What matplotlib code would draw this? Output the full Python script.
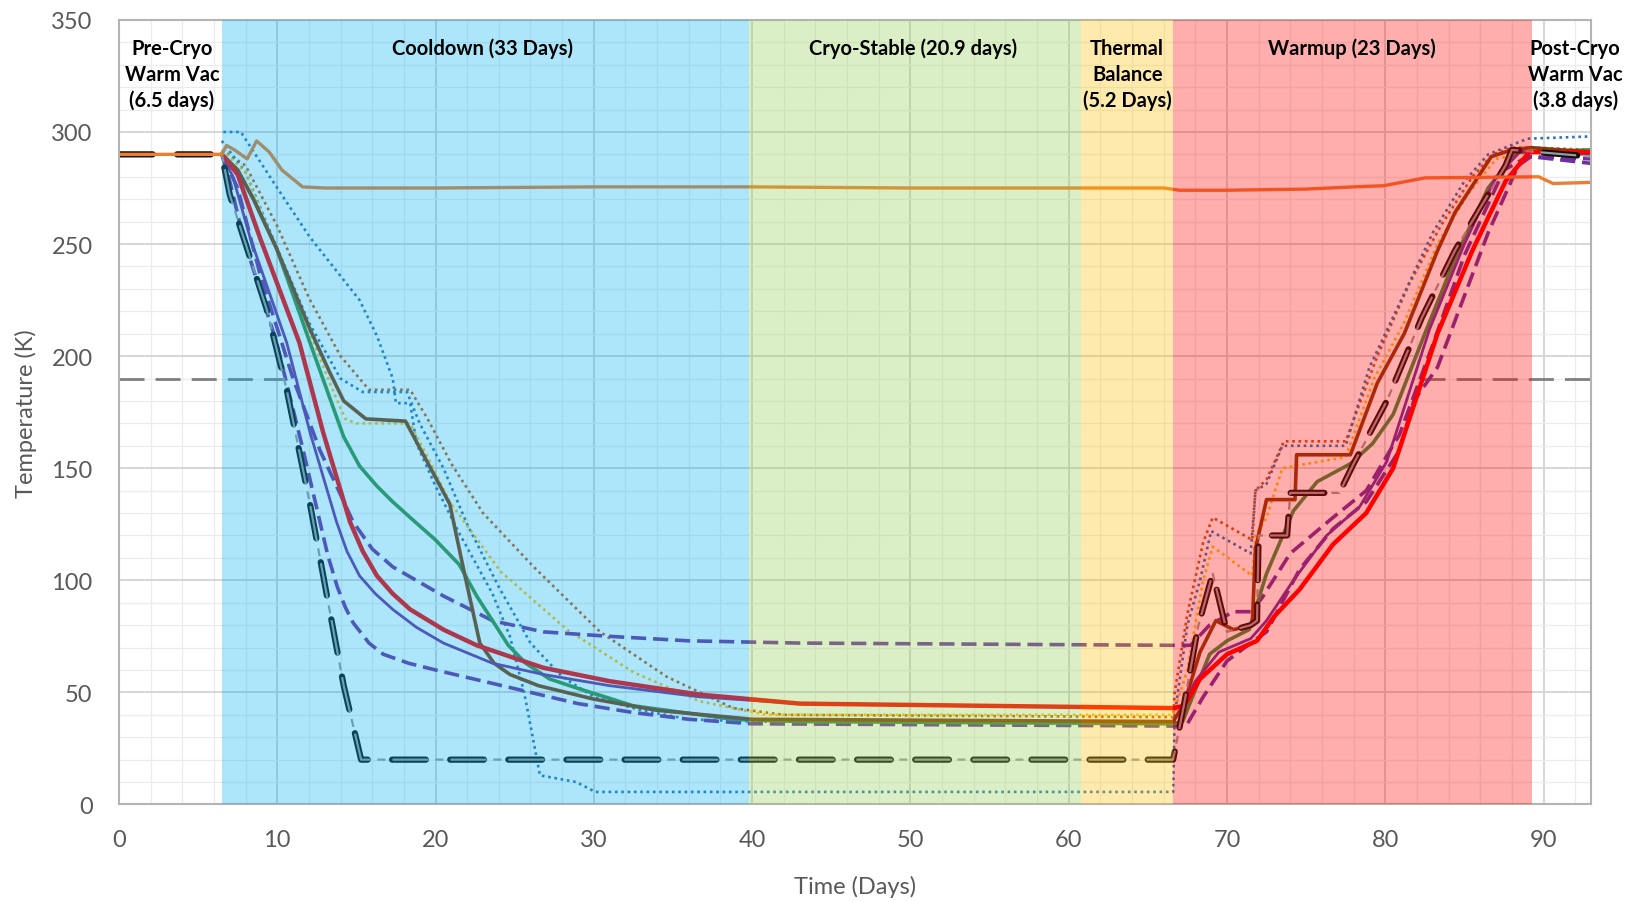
import numpy as np
import matplotlib
matplotlib.use('Agg')
import matplotlib.pyplot as plt
from matplotlib.ticker import MultipleLocator

plt.rcParams['font.family'] = ['Lato', 'DejaVu Sans']

# ---- phases (days) ----
phase_edges = [0, 6.5, 39.8, 60.8, 66.6, 89.3, 93]
phase_colors = [None, '#00B0F0', '#92D050', '#FFC000', '#FF0000', None]
phase_labels = ['Pre-Cryo\nWarm Vac\n(6.5 days)', 'Cooldown (33 Days)', 'Cryo-Stable (20.9 days)',
                'Thermal\nBalance\n(5.2 Days)', 'Warmup (23 Days)', 'Post-Cryo\nWarm Vac\n(3.8 days)']
label_x = [3.35, 23.0, 50.2, 63.7, 77.9, 92.0]

# ---- temperature traces (day, K) ----
black_x = [0, 6.5, 7.0, 9.33, 10.6, 12.07, 13.3, 14.2, 15.3, 66.6, 67.3, 68.2, 69.1, 70.0, 71.5, 71.9, 72.0,
           73.8, 74.0, 77.1, 78.0, 80.1, 82.3, 84.4, 85.9, 87.6, 88.0, 93]
black_y = [290, 290, 272, 221, 185, 134, 87, 53, 20, 20, 45, 80, 103, 77, 80, 82, 120,
           120, 139, 139, 152, 180, 217, 247, 265, 285, 292, 289]

limit_x = [0, 10.4, np.nan, 82.2, 93]
limit_y = [190, 190, np.nan, 190, 190]

orange_x = [0, 6.5, 6.8, 7.3, 8.1, 8.7, 9.5, 10.3, 11.6, 13, 20, 30, 40, 50, 60, 66, 67, 70, 75, 78, 79.9, 82.5,
            89.7, 90.6, 93]
orange_y = [290, 290, 294, 292, 288, 296, 291, 283, 275.5, 275, 275, 275.5, 275.5, 275, 275, 275, 274, 274, 274.5,
            275.5, 276, 279.5, 280, 277, 277.5]

pdl_x = [6.5, 7.0, 7.85, 9.96, 11.64, 12.7, 13.2, 13.8, 14.3, 14.8, 15.8, 16.7, 18.3, 20, 23, 26, 29, 32.5, 36,
         40, 66.6, 67.5, 68.5, 70, 71.5, 72.5, 74.6, 76.7, 78.8, 80.9, 81.8, 83.3, 86.5, 88.4, 89.2, 93]
pdl_y = [290, 278, 253, 206, 158, 126, 111, 97, 88, 81, 72, 67, 63, 60, 55, 50, 45, 41, 38,
         36, 35, 36, 48, 64, 72, 77, 105, 123, 135, 158, 180, 195, 255, 285, 289, 286]

pdu_x = [6.5, 7.5, 8.9, 11, 12.7, 14.8, 16, 17.3, 20.5, 23.6, 26.8, 31, 36, 43, 66.6, 67.7, 68.9, 70.4, 71.5,
         72.2, 74, 76.7, 78.8, 80.9, 83, 85, 87.5, 89, 93]
pdu_y = [290, 275, 237, 190, 158, 126, 114, 106, 93, 82, 77, 75, 73, 72, 71, 71, 80, 86, 86,
         92, 112, 128, 140, 165, 205, 245, 283, 289, 288]

red_x = [6.5, 7.5, 8.9, 11.4, 12.9, 14.6, 15.4, 16.3, 17.3, 18.4, 20.5, 22.6, 24.7, 26.8, 31, 36.7, 43, 66.6,
         67.3, 68.3, 70, 71.9, 73, 74.6, 76.7, 78.8, 80.5, 83.3, 85.5, 87.6, 89.1, 93]
red_y = [290, 281, 253, 206, 166, 126, 113, 102, 94, 87, 78, 71, 66, 61, 55, 49, 45, 43,
         44, 56, 67, 73, 84, 96, 116, 130, 150, 210, 247, 278, 291, 291]

purple_x = [6.5, 7.2, 8.28, 10.6, 12.07, 13.75, 14.4, 15.2, 16.2, 17.3, 18.8, 20.5, 23.6, 26.8, 31, 36.7, 43,
            66.6, 67.2, 68, 69.5, 71.5, 72.5, 74.2, 76.3, 78.4, 80.1, 82.8, 85, 87, 88.5, 93]
purple_y = [290, 280, 253, 206, 166, 126, 113, 102, 94, 87, 79, 72, 63, 58, 53, 48, 45,
            43, 44, 55, 68, 74, 82, 100, 120, 133, 153, 212, 250, 280, 291, 290]

green_x = [6.5, 7.5, 8.5, 9.96, 12.07, 14.2, 15.2, 16.3, 17.3, 18.4, 20, 21.5, 22.6, 23.6, 24.6, 25.7, 27.2, 28.9,
           32.5, 38.8, 43, 66.6, 67.2, 68.9, 70, 71.4, 72.5, 74.2, 75.7, 77.8, 79.2, 80.5, 82.5, 84.5, 86.5,
           88.3, 93]
green_y = [290, 283, 270, 248, 206, 164, 151, 142, 135, 128, 118, 107, 93, 82, 71, 63, 56, 52,
           44, 38, 37, 36, 37, 67, 73, 78, 103, 131, 144, 152, 161, 174, 210, 245, 275,
           291, 292]

brown_x = [6.5, 7.5, 8.5, 9.96, 12.07, 13.3, 14.2, 15.6, 18.1, 20.9, 21.8, 22.8, 23.7, 24.7, 26.5, 30, 34, 40,
           66.6, 67.3, 68.3, 69.3, 70.4, 71.6, 71.8, 72.5, 74.3, 74.4, 77.8, 79.5, 81.2, 83.3, 84.4, 86.7, 88,
           89.2, 93]
brown_y = [290, 283, 270, 248, 212, 193, 180, 172, 171, 134, 104, 72, 63, 58, 53, 47, 42, 38,
           37, 45, 68, 82, 78, 80, 114, 136, 136, 156, 156, 188, 210, 247, 264, 289, 292,
           293, 291]

gold_dot_x = [6.5, 8, 11.4, 13.5, 14.3, 15, 18.4, 19.5, 20.9, 24.1, 28.3, 32.5, 36.7, 40.9, 66.6, 67.5, 68.5,
              69.1, 71.6, 71.8, 72.5, 73.5, 77.5, 79.3, 81.2, 83.3, 85.2, 87, 89, 93]
gold_dot_y = [292, 282, 222, 185, 172, 170, 170, 155, 135, 104, 78, 59, 46, 40, 40, 60, 100,
              115, 102, 120, 128, 150, 155, 190, 215, 250, 272, 288, 291, 291]

blue_dot_a_x = [6.6, 7.7, 10, 12.07, 15.2, 16.3, 17.3, 17.5, 18.4, 18.8, 20, 21.5, 23.6, 24.7, 25.6, 26.6,
                28.9, 30.1, 66.6, 66.7, 67.5, 68.3, 69, 71.5, 71.8, 72.5, 73.5, 77.5, 79, 81, 83, 85, 86.5,
                89, 93]
blue_dot_a_y = [300, 300, 275, 253, 225, 209, 190, 179, 179, 161, 142, 121, 94, 75, 50, 13,
                10, 5.6, 5.6, 40, 80, 100, 122, 112, 140, 143, 160, 160, 195, 225, 255, 278, 290,
                297, 298]

blue_dot_b_x = [6.5, 8, 10, 12, 14, 15.4, 18.2, 19, 20.5, 22, 24, 26, 28, 30, 33, 36, 40, 66.6]
blue_dot_b_y = [296, 282, 248, 215, 190, 184, 184, 170, 150, 125, 97, 72, 57, 48, 42, 38, 37, 37]

brown_dot_x = [6.5, 8, 10, 12, 14, 15.8, 18.4, 19.5, 21, 23, 26.2, 30.4, 34.6, 38.8, 42, 66.6, 66.7, 67.5,
               68.5, 69.1, 71.6, 71.8, 72.5, 73.6, 77.5, 79.5, 81.5, 83.5, 85.5, 86.8, 88, 89.3, 93]
brown_dot_y = [292, 285, 258, 226, 200, 185, 185, 172, 152, 130, 106, 77, 57, 43, 40, 39, 50, 85,
               117, 128, 118, 140, 145, 162, 162, 200, 232, 258, 280, 290, 293, 293, 292]

fig = plt.figure(figsize=(16.36, 9.03), dpi=100)
ax = fig.add_axes([0.0727, 0.108, 0.8998, 0.8689])

dot = dict(lw=1.9, dashes=(1, 1.4), zorder=2)
ax.plot(brown_dot_x, brown_dot_y, color='#C55A11', **dot)
ax.plot(blue_dot_b_x, blue_dot_b_y, color='#2E75B6', **dot)
ax.plot(gold_dot_x, gold_dot_y, color='#FFC000', **dot)
ax.plot(blue_dot_a_x, blue_dot_a_y, color='#2E75B6', **dot)

ax.plot(limit_x, limit_y, color='#7f7f7f', lw=2, dashes=(9, 4), zorder=2)

dsh = dict(lw=2.6, dashes=(4.2, 1.9), zorder=2)
ax.plot(pdu_x, pdu_y, color='#7030A0', **dsh)
ax.plot(pdl_x, pdl_y, color='#7030A0', **dsh)

ax.plot(green_x, green_y, color='#3C9040', lw=2.6, zorder=2)
ax.plot(brown_x, brown_y, color='#843C0C', lw=2.6, zorder=2)
ax.plot(purple_x, purple_y, color='#7030A0', lw=2.0, zorder=2)
ax.plot(red_x, red_y, color='#FF0000', lw=3.2, zorder=2)

# black compound dashed line
ax.plot(black_x, black_y, color='#101010', lw=4.5, linestyle=(0, (5.4, 3.9)),
        dash_capstyle='round', solid_joinstyle='round', zorder=2)
ax.plot(black_x, black_y, color='#9a9a9a', lw=1.6, linestyle=(25.2, (16.2, 3.15, 3.6, 3.15)), zorder=2)

ax.plot(orange_x, orange_y, color='#ED7D31', lw=2.4, zorder=2)

# phase bands laid over the traces
for i in range(len(phase_edges) - 1):
    if phase_colors[i] is not None:
        ax.axvspan(phase_edges[i], phase_edges[i + 1], color=phase_colors[i], alpha=0.32, lw=0, zorder=3)
    ax.text(label_x[i], 342, phase_labels[i], ha='center', va='top', fontsize=14.5,
            fontweight='bold', linespacing=1.37, zorder=5)

ax.set_xlim(0, 93)
ax.set_ylim(0, 350)
ax.xaxis.set_major_locator(MultipleLocator(10))
ax.yaxis.set_major_locator(MultipleLocator(50))
ax.xaxis.set_minor_locator(MultipleLocator(2))
ax.yaxis.set_minor_locator(MultipleLocator(10))
ax.grid(True, which='major', color='#d0d0d0', lw=1.2, zorder=0)
ax.grid(True, which='minor', color='#ececec', lw=0.9, zorder=0)
ax.set_axisbelow(True)
ax.tick_params(which='both', length=0)
ax.tick_params(axis='x', labelsize=17, labelcolor='#595959', pad=18)
ax.tick_params(axis='y', labelsize=17, labelcolor='#595959', pad=19)
for s in ax.spines.values():
    s.set_color('#b4b4b4')
    s.set_linewidth(1.5)

ax.set_xlabel('Time (Days)', fontsize=17, color='#595959')
ax.set_ylabel('Temperature (K)', fontsize=17, color='#595959')
ax.xaxis.label.set_va('center')
ax.yaxis.label.set_va('center')
ax.xaxis.set_label_coords(0.5, -0.104)
ax.yaxis.set_label_coords(-0.063, 0.5)

plt.savefig('out.png', dpi=100)
